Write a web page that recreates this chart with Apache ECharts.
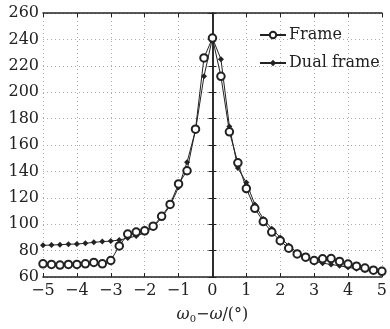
<!DOCTYPE html>
<html>
<head>
<meta charset="utf-8">
<script src="https://cdn.jsdelivr.net/npm/echarts@6/dist/echarts.min.js"></script>
<style>
  html, body { margin: 0; padding: 0; background: #fff; }
  #chart { width: 390px; height: 329px; }
</style>
</head>
<body>
<div id="chart"></div>
<script>
// offset omega0 - omega, degrees
var offsets = [-5, -4.75, -4.5, -4.25, -4, -3.75, -3.5, -3.25, -3, -2.75, -2.5, -2.25, -2, -1.75, -1.5, -1.25, -1, -0.75, -0.5, -0.25,
    0, 0.25, 0.5, 0.75, 1, 1.25, 1.5, 1.75, 2, 2.25, 2.5, 2.75, 3, 3.25, 3.5, 3.75, 4, 4.25, 4.5, 4.75, 5];

var frameVals = [70, 69.5, 69, 69.5, 69.5, 70, 71, 70, 72.5, 83.5, 92.5, 94, 95, 98.5, 106, 115, 130.5, 140.5, 172, 226,
    241, 212, 170, 146.5, 127, 112, 102, 94, 87.5, 81.8, 77.5, 75, 72.5, 73.8, 74, 71.8, 69.8, 68.2, 66.8, 65.2, 64.3];

var dualVals = [84, 84.2, 84.5, 84.8, 85, 85.5, 86.3, 86.8, 87.2, 88, 89.5, 91, 93.5, 97.5, 105, 114, 128, 147, 171, 212,
    241, 225, 174, 142.5, 131.5, 115, 104, 96.6, 90, 83.8, 78.5, 75.5, 72, 70.5, 69.5, 68.5, 67.3, 66.3, 65.3, 64.3, 63.3];

var seriesNames = ['Frame', 'Dual frame'];

function pairs(vals) {
    var out = []
    for (var i = 0; i < offsets.length; i++) {
        out.push([offsets[i], vals[i]])
    }
    return out
}

var font = 'DejaVu Serif'
var ink = '#222'

function minus(v) {
    return v < 0 ? '\u2212' + Math.abs(v) : String(v)
}

var myChart = echarts.init(document.getElementById('chart'))
var option = {
    backgroundColor: '#fff',
    animation: false,
    grid: { left: 43, right: 3, top: 13, bottom: 48 },
    legend: {
        data: seriesNames,
        left: 254,
        top: 22,
        orient: 'vertical',
        itemWidth: 26,
        itemHeight: 8,
        itemGap: 12,
        textStyle: { fontFamily: font, fontSize: 16, color: ink, padding: [0, 0, 0, -2] }
    },
    xAxis: [{
        type: 'value',
        min: -5, max: 5, interval: 1,
        name: '{i|ω}{s|0}\u2212{i|ω}/(°)',
        nameLocation: 'middle',
        nameGap: 29,
        nameTextStyle: {
            fontFamily: font, fontSize: 16, color: ink,
            rich: {
                i: { fontFamily: font, fontSize: 16, fontStyle: 'italic', color: ink },
                s: { fontFamily: font, fontSize: 10, color: ink, verticalAlign: 'bottom', padding: [8, 0, 0, 0] }
            }
        },
        axisLine: { lineStyle: { color: ink, width: 1.5 } },
        axisTick: { inside: true, length: 4, lineStyle: { color: ink } },
        axisLabel: { fontFamily: font, fontSize: 16, color: ink, margin: 6, formatter: minus, showMinLabel: true, showMaxLabel: true },
        splitLine: { show: true, lineStyle: { color: '#aaa', type: [1, 3], width: 1 } }
    }, {
        type: 'value', position: 'top',
        min: -5, max: 5, interval: 1,
        axisLine: { lineStyle: { color: ink, width: 1.5 } },
        axisTick: { inside: true, length: 4, lineStyle: { color: ink } },
        axisLabel: { show: false },
        splitLine: { show: false }
    }],
    yAxis: [{
        type: 'value',
        min: 60, max: 260, interval: 20,
        axisLine: { show: true, lineStyle: { color: ink, width: 1.5 } },
        axisTick: { show: true, inside: true, length: 4, lineStyle: { color: ink } },
        axisLabel: { fontFamily: font, fontSize: 16, color: ink, margin: 4 },
        splitLine: { show: true, lineStyle: { color: '#aaa', type: [1, 3], width: 1 } }
    }, {
        type: 'value', position: 'right',
        min: 60, max: 260, interval: 20,
        axisLine: { show: true, lineStyle: { color: ink, width: 1.5 } },
        axisTick: { show: true, inside: true, length: 4, lineStyle: { color: ink } },
        axisLabel: { show: false },
        splitLine: { show: false }
    }],
    series: [{
        name: seriesNames[0],
        type: 'line',
        data: pairs(frameVals),
        symbol: 'emptyCircle',
        symbolSize: 7.5,
        z: 3,
        lineStyle: { color: ink, width: 1 },
        itemStyle: { color: ink, borderColor: ink, borderWidth: 1 }
    }, {
        name: seriesNames[1],
        type: 'line',
        data: pairs(dualVals),
        symbol: 'diamond',
        symbolSize: 6,
        z: 2,
        lineStyle: { color: ink, width: 1 },
        itemStyle: { color: ink }
    }]
}
myChart.setOption(option)
</script>
</body>
</html>
